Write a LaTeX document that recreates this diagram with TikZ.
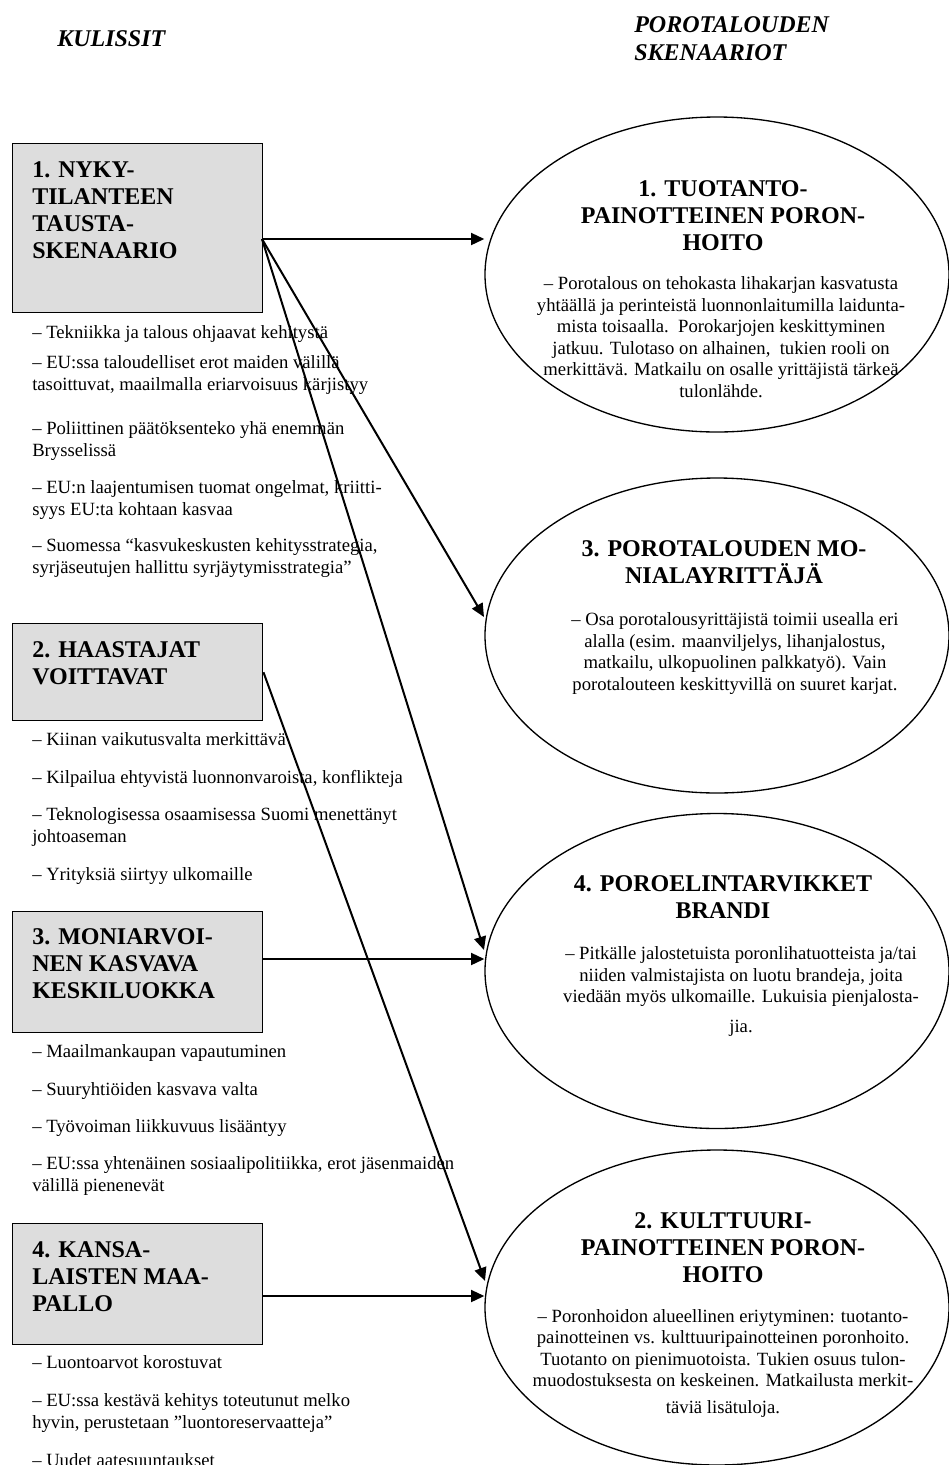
\documentclass[tikz,border=0pt]{standalone}
\usepackage{fontspec}
\setmainfont{Liberation Serif}
\usetikzlibrary{shapes.geometric,arrows.meta}
\definecolor{boxgray}{HTML}{DDDDDD}
\tikzset{
  title/.style={font=\fontsize{18}{21}\selectfont\bfseries\itshape, inner sep=0pt, align=left, anchor=base west},
  head/.style={font=\fontsize{18}{20.25}\selectfont\bfseries, inner sep=0pt, align=left, anchor=base west},
  ehead/.style={font=\fontsize{18}{20.25}\selectfont\bfseries, inner sep=0pt, align=center, anchor=base},
  item/.style={font=\fontsize{14}{16.1}\selectfont, inner sep=0pt, align=left, anchor=base west},
  ebody/.style={font=\fontsize{14}{16.1}\selectfont, inner sep=0pt, align=center, anchor=base},
  kbox/.style={draw, line width=1.1pt, fill=boxgray, minimum width=187.5pt, anchor=north west, inner sep=0pt},
  ell/.style={draw, ellipse, line width=1pt, minimum width=348pt, minimum height=236.25pt, inner sep=0pt},
  arr/.style={line width=1.5pt, -{Triangle[length=10pt,width=9pt]}}
}
\begin{document}
\begin{tikzpicture}[x=0.75pt,y=-0.75pt]
\path[use as bounding box] (0,0) rectangle (949,1465);

% titles (anchors are at the baseline of the last line)
\node[title] (tk) at (57,46) {KULISSIT};
\node[title] (tp) at (634,60) {POROTALOUDEN\\SKENAARIOT};

% left boxes
\node[kbox, minimum height=126.75pt] (b1) at (12,143) {};
\node[kbox, minimum height=72.75pt] (b2) at (12,623) {};
\node[kbox, minimum height=90.75pt] (b3) at (12,911) {};
\node[kbox, minimum height=90.75pt] (b4) at (12,1223) {};

\node[head] (h1) at (32,258) {1. NYKY-\\TILANTEEN\\TAUSTA-\\SKENAARIO};
\node[head] (h2) at (32,684) {2. HAASTAJAT\\VOITTAVAT};
\node[head] (h3) at (32,998) {3. MONIARVOI-\\NEN KASVAVA\\KESKILUOKKA};
\node[head] (h4) at (32,1311) {4. KANSA-\\LAISTEN MAA-\\PALLO};

% lists
\node[item] (l1a) at (32,338) {– Tekniikka ja talous ohjaavat kehitystä};
\node[item] (l1b) at (32,390) {– EU:ssa taloudelliset erot maiden välillä\\tasoittuvat, maailmalla eriarvoisuus kärjistyy};
\node[item] (l1c) at (32,456) {– Poliittinen päätöksenteko yhä enemmän\\Brysselissä};
\node[item] (l1d) at (32,515) {– EU:n laajentumisen tuomat ongelmat, kriitti-\\syys EU:ta kohtaan kasvaa};
\node[item] (l1e) at (32,573) {– Suomessa “kasvukeskusten kehitysstrategia,\\syrjäseutujen hallittu syrjäytymisstrategia”};

\node[item] (l2a) at (32,745) {– Kiinan vaikutusvalta merkittävä};
\node[item] (l2b) at (32,783) {– Kilpailua ehtyvistä luonnonvaroista, konflikteja};
\node[item] (l2c) at (32,842) {– Teknologisessa osaamisessa Suomi menettänyt\\johtoaseman};
\node[item] (l2d) at (32,880) {– Yrityksiä siirtyy ulkomaille};

\node[item] (l3a) at (32,1057) {– Maailmankaupan vapautuminen};
\node[item] (l3b) at (32,1095) {– Suuryhtiöiden kasvava valta};
\node[item] (l3c) at (32,1132) {– Työvoiman liikkuvuus lisääntyy};
\node[item] (l3d) at (32,1191) {– EU:ssa yhtenäinen sosiaalipolitiikka, erot jäsenmaiden\\välillä pienenevät};

\node[item] (l4a) at (32,1368) {– Luontoarvot korostuvat};
\node[item] (l4b) at (32,1428) {– EU:ssa kestävä kehitys toteutunut melko\\hyvin, perustetaan ”luontoreservaatteja”};
\node[item] (l4c) at (32,1466) {– Uudet aatesuuntaukset};

% ellipses
\node[ell] (e1) at (717,274.5) {};
\node[ell] (e3) at (717,635.5) {};
\node[ell] (e4) at (717,971) {};
\node[ell] (e2) at (717,1307.5) {};

\node[ehead] (eh1) at (723,250) {1. TUOTANTO-\\PAINOTTEINEN PORON-\\HOITO};
\node[ebody] (eb1) at (721,397) {– Porotalous on tehokasta lihakarjan kasvatusta\\yhtäällä ja perinteistä luonnonlaitumilla laidunta-\\mista toisaalla.\ \ Porokarjojen keskittyminen\\jatkuu. Tulotaso on alhainen,\ \ tukien rooli on\\merkittävä. Matkailu on osalle yrittäjistä tärkeä\\tulonlähde.};

\node[ehead] (eh3) at (724,583) {3. POROTALOUDEN MO-\\NIALAYRITTÄJÄ};
\node[ebody] (eb3) at (735,690) {– Osa porotalousyrittäjistä toimii usealla eri\\alalla (esim. maanviljelys, lihanjalostus,\\matkailu, ulkopuolinen palkkatyö). Vain\\porotalouteen keskittyvillä on suuret karjat.};

\node[ehead] (eh4) at (723,918) {4. POROELINTARVIKKET\\BRANDI};
\node[ebody] (eb4) at (741,1032) {– Pitkälle jalostetuista poronlihatuotteista ja/tai\\niiden valmistajista on luotu brandeja, joita\\viedään myös ulkomaille. Lukuisia pienjalosta-\\[6pt]jia.};

\node[ehead] (eh2) at (723,1282) {2. KULTTUURI-\\PAINOTTEINEN PORON-\\HOITO};
\node[ebody] (eb2) at (723,1413) {– Poronhoidon alueellinen eriytyminen: tuotanto-\\painotteinen vs. kulttuuripainotteinen poronhoito.\\Tuotanto on pienimuotoista. Tukien osuus tulon-\\muodostuksesta on keskeinen. Matkailusta merkit-\\[3.5pt]täviä lisätuloja.};

% connectors
\coordinate (b1p) at (262,239);
\coordinate (b3p) at (262,959);
\coordinate (b4p) at (262,1296);
\coordinate (t3) at (484,617);
\coordinate (t4) at (484,950);
\coordinate (t2) at (485,1281);

\draw[arr] (b1p) -- (b1p -| e1.west);
\draw[arr] (b1p) -- (t3);
\draw[arr] (b1p) -- (t4);
\draw[arr] (b2.east) -- (t2);
\draw[arr] (b3p) -- (b3p -| e4.west);
\draw[arr] (b4p) -- (b4p -| e2.west);
\end{tikzpicture}
\end{document}
